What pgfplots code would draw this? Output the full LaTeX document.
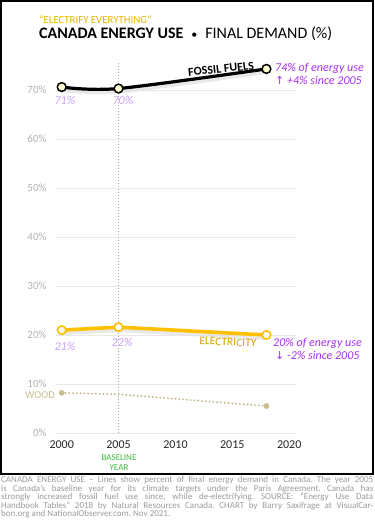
\documentclass[border=0pt]{standalone}
\usepackage{pgfplots}
\pgfplotsset{compat=1.18}
\usepackage{fontspec}
\setmainfont{Carlito}
\newfontfamily\dejavu{DejaVu Sans}
\definecolor{elec}{HTML}{FFC000}
\definecolor{wood}{HTML}{C8BC8C}
\definecolor{purp}{HTML}{A630F0}
\definecolor{lpurp}{HTML}{C9A2F2}
\definecolor{titley}{HTML}{EBB400}
\definecolor{capgray}{HTML}{9A9A9A}
\definecolor{grn}{HTML}{3DB83D}
\newcommand{\fs}[1]{\fontsize{#1bp}{#1bp}\selectfont}
\begin{document}
\frenchspacing
\begin{tikzpicture}
\path[use as bounding box] (0,0) rectangle (375bp,-520bp);
\draw[black, line width=2bp] (1bp,-1bp) rectangle (373bp,-474bp);
% titles
\node[anchor=base west, inner sep=0, text=titley] at (39bp,-23bp) {\fs{10.8}"ELECTRIFY EVERYTHING"};
\node[anchor=base west, inner sep=0] at (39bp,-38.5bp) {\fs{16}\textbf{CANADA ENERGY USE}\hspace{8bp}{\fs{12}\textbullet}\hspace{8bp}FINAL DEMAND (\%)};
\begin{axis}[at={(56bp,-433bp)}, anchor=south west, scale only axis,
  width=240bp, height=372.4bp,
  xmin=1999.5, xmax=2020.6, ymin=0, ymax=76,
  clip=false,
  axis line style={draw=none}, tick style={draw=none},
  ytick={0,10,...,70}, ymajorgrids, grid style={black!9, line width=0.8bp},
  xtick={2000,2005,...,2020},
  /pgf/number format/1000 sep={},
  /pgf/number format/assume math mode=true,
  yticklabel={\pgfmathprintnumber{\tick}\%},
  yticklabel style={anchor=east, xshift=-6bp, text=black!30, font=\fs{11}},
  xticklabel style={anchor=north, yshift=-4bp, text=black!85, font=\fs{12}},
]
% baseline vertical
\addplot[black!35, dashed, dash pattern=on 1.5bp off 1.5bp, line width=0.6bp] coordinates {(2005,0) (2005,75.5)};
% shadows
\addplot[black!12, line width=4bp, smooth, yshift=-3bp, opacity=0.7] coordinates {(2000,70.6) (2005,70.3) (2018,74.3)};
\addplot[black!12, line width=4bp, yshift=-3bp, opacity=0.7] coordinates {(2000,21.0) (2005,21.6) (2018,20.0)};
% wood
\addplot[wood, line width=2.2bp, dash pattern=on 0bp off 3.8bp, line cap=round] coordinates {(2000,8.2) (2005,7.9) (2018,5.5)};
\addplot[only marks, mark=*, mark size=2.6bp, mark options={fill=wood, draw=wood}] coordinates {(2000,8.2) (2018,5.5)};
% electricity
\addplot[elec, line width=3.6bp, mark=*, mark size=4.2bp, mark options={fill=white, draw=elec, line width=1.6bp}] coordinates {(2000,21.0) (2005,21.6) (2018,20.0)};
% fossil
\addplot[black, line width=3.2bp, smooth, mark=*, mark size=4.4bp, mark options={fill=yellow!18, draw=black, line width=1.5bp}] coordinates {(2000,70.6) (2005,70.3) (2018,74.3)};
\end{axis}
% line labels
\node[rotate=6, inner sep=0] at (221bp,-69bp) {\fs{12}\textbf{FOSSIL FUELS}};
\node[rotate=-3, inner sep=0, text=elec!85!black] at (228bp,-342bp) {\fs{11.5}ELECTRICITY};
\node[anchor=east, inner sep=0, text=wood] at (55bp,-395bp) {\fs{10.5}WOOD};
% value labels
\node[inner sep=0, text=lpurp] at (65bp,-100bp) {\fs{12}\textit{71\%}};
\node[inner sep=0, text=lpurp] at (123bp,-100bp) {\fs{12}\textit{70\%}};
\node[inner sep=0, text=lpurp] at (65bp,-346bp) {\fs{12}\textit{21\%}};
\node[inner sep=0, text=lpurp] at (122bp,-342bp) {\fs{12}\textit{22\%}};
% annotations
\node[anchor=west, inner sep=0, text=purp] at (275bp,-68bp) {\fs{12}\textit{74\% of energy use}};
\node[anchor=west, inner sep=0, text=purp] at (275bp,-80.5bp) {\fs{12}{\dejavu\fs{11}↑} \textit{+4\% since 2005}};
\node[anchor=west, inner sep=0, text=purp] at (273bp,-343bp) {\fs{12}\textit{20\% of energy use}};
\node[anchor=west, inner sep=0, text=purp] at (275bp,-355.5bp) {\fs{12}{\dejavu\fs{11}↓} \textit{-2\% since 2005}};
% baseline year
\node[inner sep=0, text=grn, align=center] at (119bp,-462.5bp) {\fs{9}BASELINE\\[-1.8bp]\fs{9}YEAR};
% caption
\node[anchor=north west, inner sep=0, text=capgray] at (1bp,-476bp) {\parbox{372bp}{\fs{9}\baselineskip=8.6bp
\makebox[372bp][s]{CANADA ENERGY USE -- Lines show percent of final energy demand in Canada. The year 2005}\\
\makebox[372bp][s]{is Canada's baseline year for its climate targets under the Paris Agreement. Canada has}\\
\makebox[372bp][s]{strongly increased fossil fuel use since, while de-electrifying. SOURCE: "Energy Use Data}\\
\makebox[372bp][s]{Handbook Tables" 2018 by Natural Resources Canada. CHART by Barry Saxifrage at VisualCar-}\\
bon.org and NationalObserver.com. Nov 2021.}};
\end{tikzpicture}
\end{document}
